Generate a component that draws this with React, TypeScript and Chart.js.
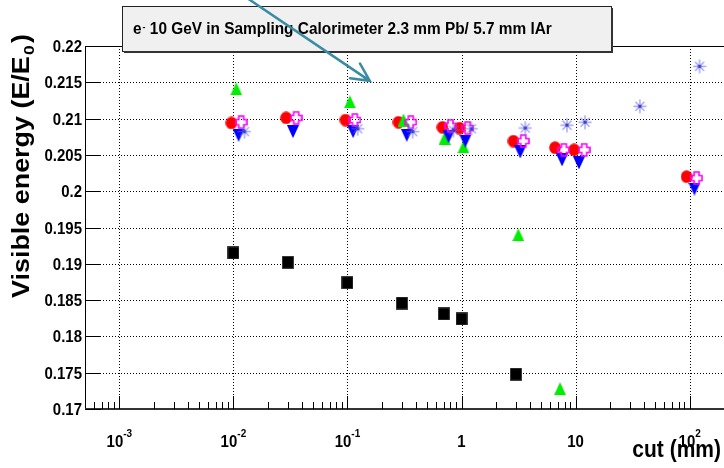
import React, { useEffect, useRef } from 'react';
import { Chart, registerables } from 'chart.js';
Chart.register(...registerables);

// ---------- data ----------
const yTicks = [0.17, 0.175, 0.18, 0.185, 0.19, 0.195, 0.2, 0.205, 0.21, 0.215, 0.22];
const yTickLabels = ['0.17', '0.175', '0.18', '0.185', '0.19', '0.195', '0.2', '0.205', '0.21', '0.215', '0.22'];
const xTicks = [1e-3, 1e-2, 1e-1, 1, 10, 100];
const xTickBase = ['10', '10', '10', '1', '10', '10'];
const xTickExp = ['-3', '-2', '-1', '', '', '2'];

const blackX = [0.01, 0.03, 0.1, 0.3, 0.7, 1, 3];
const blackY = [0.1915, 0.1902, 0.1874, 0.1846, 0.1831, 0.1824, 0.1748];
const redX = [0.0096, 0.029, 0.096, 0.28, 0.68, 0.96, 2.85, 6.6, 9.7, 94];
const redY = [0.2094, 0.2101, 0.2098, 0.2095, 0.2088, 0.2087, 0.2069, 0.206, 0.2057, 0.202];
const blueX = [0.0111, 0.0333, 0.112, 0.331, 0.77, 1.08, 3.27, 7.6, 10.7, 110];
const blueY = [0.2077, 0.2082, 0.2082, 0.2077, 0.2075, 0.2069, 0.2054, 0.2043, 0.2039, 0.2003];
const magX = [0.0117, 0.0355, 0.116, 0.359, 0.8, 1.13, 3.48, 7.9, 11.9, 115];
const magY = [0.2095, 0.2101, 0.2098, 0.2095, 0.209, 0.2087, 0.2069, 0.2057, 0.2057, 0.2018];
const greenX = [0.0106, 0.105, 0.31, 0.71, 1.04, 3.15, 7.3];
const greenY = [0.2141, 0.2123, 0.2098, 0.2073, 0.2061, 0.194, 0.1728];
const starX = [0.0125, 0.123, 0.373, 0.85, 1.22, 3.62, 8.4, 12.1, 36.6, 122];
const starY = [0.2082, 0.2086, 0.2082, 0.2084, 0.2086, 0.2087, 0.2091, 0.2095, 0.2117, 0.2172];

const titleText = ' 10 GeV in Sampling Calorimeter 2.3 mm Pb/ 5.7 mm lAr';
const xTitle = 'cut (mm)';
const yTitle = 'Visible energy (E/E';
const arrowFrom = [0.0132, 0.2266];
const arrowTo = [0.157, 0.2152];

const FONT = '"Liberation Sans", Arial, Helvetica, sans-serif';
const SY = 1.1;

const pts = (xs: number[], ys: number[]) => xs.map((x, i) => ({ x, y: ys[i] }));

function mk(w: number, h: number, draw: (g: CanvasRenderingContext2D) => void) {
  const c = document.createElement('canvas');
  c.width = w;
  c.height = h;
  const g = c.getContext('2d')!;
  draw(g);
  return c;
}

function txt(ctx: CanvasRenderingContext2D, s: string, x: number, y: number, font: string, align: CanvasTextAlign) {
  ctx.save();
  ctx.translate(x, y);
  ctx.scale(1, SY);
  ctx.font = font;
  ctx.textAlign = align;
  ctx.textBaseline = 'alphabetic';
  ctx.fillStyle = '#000';
  ctx.fillText(s, 0, 0);
  ctx.restore();
}

const deco = {
  id: 'deco',
  beforeDatasetsDraw(chart: any) {
    const { ctx, chartArea: a, scales } = chart;
    const x = scales.x, y = scales.y;
    ctx.save();
    ctx.strokeStyle = '#000';
    ctx.lineWidth = 1;
    ctx.setLineDash([1, 2]);
    ctx.beginPath();
    xTicks.forEach((v) => {
      const px = Math.round(x.getPixelForValue(v)) + 0.5;
      ctx.moveTo(px, a.top);
      ctx.lineTo(px, a.bottom);
    });
    yTicks.forEach((v) => {
      const py = Math.round(y.getPixelForValue(v)) + 0.5;
      ctx.moveTo(a.left, py);
      ctx.lineTo(a.right, py);
    });
    ctx.stroke();
    ctx.restore();
  },
  afterDatasetsDraw(chart: any) {
    const { ctx, chartArea: a, scales } = chart;
    const x = scales.x, y = scales.y;
    ctx.save();
    // frame
    ctx.strokeStyle = '#000';
    ctx.lineWidth = 1;
    ctx.beginPath();
    ctx.moveTo(a.left + 0.5, a.bottom);
    ctx.lineTo(a.left + 0.5, a.top + 0.5);
    ctx.lineTo(a.right, a.top + 0.5);
    ctx.stroke();
    ctx.strokeStyle = '#333';
    ctx.lineWidth = 2;
    ctx.beginPath();
    ctx.moveTo(a.left, a.bottom);
    ctx.lineTo(a.right, a.bottom);
    ctx.stroke();
    // y ticks
    ctx.strokeStyle = '#000';
    ctx.lineWidth = 1;
    ctx.beginPath();
    yTicks.forEach((v) => {
      const py = Math.round(y.getPixelForValue(v)) + 0.5;
      ctx.moveTo(a.left, py);
      ctx.lineTo(a.left + 16, py);
    });
    ctx.stroke();
    // x ticks major + minor
    ctx.beginPath();
    for (let d = -4; d <= 2; d++) {
      for (let k = 1; k <= 9; k++) {
        const v = k * Math.pow(10, d);
        if (v <= x.min || v >= x.max) continue;
        const px = Math.round(x.getPixelForValue(v)) + 0.5;
        const len = k === 1 ? 13 : 7;
        ctx.moveTo(px, a.bottom);
        ctx.lineTo(px, a.bottom - len);
      }
    }
    ctx.stroke();
    // y labels
    yTicks.forEach((v, i) => {
      const py = y.getPixelForValue(v);
      txt(ctx, yTickLabels[i], 82, py + 6, `bold 15px ${FONT}`, 'right');
    });
    // x labels
    xTicks.forEach((v, i) => {
      const px = x.getPixelForValue(v);
      ctx.font = `bold 15px ${FONT}`;
      const wb = ctx.measureText(xTickBase[i]).width;
      ctx.font = `bold 10px ${FONT}`;
      const we = xTickExp[i] ? ctx.measureText(xTickExp[i]).width : 0;
      const start = px - (wb + we) / 2;
      txt(ctx, xTickBase[i], start, 447, `bold 15px ${FONT}`, 'left');
      if (xTickExp[i]) txt(ctx, xTickExp[i], start + wb, 437, `bold 10px ${FONT}`, 'left');
    });
    // axis titles
    txt(ctx, xTitle, 721, 457, `bold 21px ${FONT}`, 'right');
    ctx.save();
    ctx.translate(29, 298);
    ctx.rotate(-Math.PI / 2);
    ctx.scale(1.17, 1);
    ctx.fillStyle = '#000';
    ctx.textBaseline = 'alphabetic';
    ctx.textAlign = 'left';
    ctx.font = `bold 23px ${FONT}`;
    ctx.fillText(yTitle, 0, 0);
    const w1 = ctx.measureText(yTitle).width;
    ctx.font = `bold 15px ${FONT}`;
    ctx.fillText('0', w1 + 1, 5);
    const w2 = ctx.measureText('0').width;
    ctx.font = `bold 23px ${FONT}`;
    ctx.fillText(')', w1 + w2 + 3, 0);
    ctx.restore();
    // title box
    ctx.fillStyle = '#f0f0f0';
    ctx.fillRect(122, 6, 490, 46);
    ctx.strokeStyle = '#222';
    ctx.lineWidth = 1;
    ctx.strokeRect(122.5, 6.5, 489, 45);
    ctx.fillStyle = '#333';
    ctx.fillRect(124, 51, 489, 2);
    ctx.fillRect(611, 8, 2, 45);
    const tf = `bold 15.4px ${FONT}`;
    txt(ctx, 'e', 133, 34, tf, 'left');
    ctx.font = tf;
    const we = ctx.measureText('e').width;
    txt(ctx, '-', 133 + we + 1, 30, `bold 9px ${FONT}`, 'left');
    ctx.font = `bold 9px ${FONT}`;
    const wd = ctx.measureText('-').width;
    txt(ctx, titleText, 133 + we + 1 + wd, 34, tf, 'left');
    // arrow
    const x0 = x.getPixelForValue(arrowFrom[0]), y0 = y.getPixelForValue(arrowFrom[1]);
    const x1 = x.getPixelForValue(arrowTo[0]), y1 = y.getPixelForValue(arrowTo[1]);
    const ang = Math.atan2(y0 - y1, x0 - x1);
    ctx.strokeStyle = '#3a8ca4';
    ctx.lineWidth = 2.5;
    ctx.lineCap = 'round';
    ctx.beginPath();
    ctx.moveTo(x0, y0);
    ctx.lineTo(x1, y1);
    const h = 20, sp = 0.46;
    ctx.moveTo(x1 + h * Math.cos(ang - sp), y1 + h * Math.sin(ang - sp));
    ctx.lineTo(x1, y1);
    ctx.lineTo(x1 + h * Math.cos(ang + sp), y1 + h * Math.sin(ang + sp));
    ctx.stroke();
    ctx.restore();
  },
};

export default function App() {
  const ref = useRef<HTMLCanvasElement>(null);
  useEffect(() => {
    const circle = mk(12, 13, (g) => {
      g.fillStyle = '#ff0000';
      g.beginPath();
      g.ellipse(6, 6.5, 5.8, 6.3, 0, 0, Math.PI * 2);
      g.fill();
    });
    const square = mk(12, 13, (g) => {
      g.fillStyle = '#555';
      g.fillRect(0, 0, 12, 13);
      g.fillStyle = '#000';
      g.fillRect(0.7, 0.7, 10.6, 11.6);
    });
    const up = mk(12, 13, (g) => {
      g.fillStyle = '#00ee00';
      g.beginPath();
      g.moveTo(6, 0);
      g.lineTo(12, 13);
      g.lineTo(0, 13);
      g.closePath();
      g.fill();
    });
    const down = mk(12, 13, (g) => {
      g.fillStyle = '#0000ff';
      g.beginPath();
      g.moveTo(0, 0);
      g.lineTo(12, 0);
      g.lineTo(6, 13);
      g.closePath();
      g.fill();
    });
    const cross = mk(13, 14, (g) => {
      g.strokeStyle = '#ff00ff';
      g.lineWidth = 1.6;
      g.beginPath();
      const P = [[4, 1], [9, 1], [9, 4.5], [12, 4.5], [12, 9.5], [9, 9.5], [9, 13], [4, 13], [4, 9.5], [1, 9.5], [1, 4.5], [4, 4.5]];
      P.forEach((p, i) => (i ? g.lineTo(p[0], p[1]) : g.moveTo(p[0], p[1])));
      g.closePath();
      g.stroke();
    });
    const star = mk(14, 15, (g) => {
      g.strokeStyle = 'rgba(100,100,235,0.6)';
      g.lineWidth = 1.4;
      g.beginPath();
      g.moveTo(7, 0.5); g.lineTo(7, 14.5);
      g.moveTo(0.5, 7.5); g.lineTo(13.5, 7.5);
      g.moveTo(2.5, 3); g.lineTo(11.5, 12);
      g.moveTo(11.5, 3); g.lineTo(2.5, 12);
      g.stroke();
      g.fillStyle = 'rgba(50,50,190,0.9)';
      g.fillRect(5.5, 6, 3, 3);
    });
    const ds = (label: string, xs: number[], ys: number[], style: any) => ({
      label,
      data: pts(xs, ys),
      pointStyle: style,
      pointRadius: 7,
      pointHoverRadius: 7,
      clip: false as any,
    });
    const chart = new Chart(ref.current!, {
      type: 'scatter',
      data: {
        datasets: [
          ds('star', starX, starY, star),
          ds('cross', magX, magY, cross),
          ds('down', blueX, blueY, down),
          ds('up', greenX, greenY, up),
          ds('circle', redX, redY, circle),
          ds('square', blackX, blackY, square),
        ],
      },
      options: {
        animation: false,
        responsive: false,
        devicePixelRatio: 1,
        layout: { autoPadding: false, padding: { left: 85, top: 46, right: 0, bottom: 59 } },
        plugins: { legend: { display: false }, tooltip: { enabled: false } },
        scales: {
          x: { type: 'logarithmic', min: 5e-4, max: 200, display: false },
          y: { type: 'linear', min: 0.17, max: 0.22, display: false },
        },
      },
      plugins: [deco],
    });
    return () => chart.destroy();
  }, []);
  return (
    <div style={{ position: 'fixed', left: 0, top: 0, width: 724, height: 468, background: '#fff' }}>
      <canvas ref={ref} width={724} height={468} style={{ display: 'block', width: 724, height: 468 }} />
    </div>
  );
}
